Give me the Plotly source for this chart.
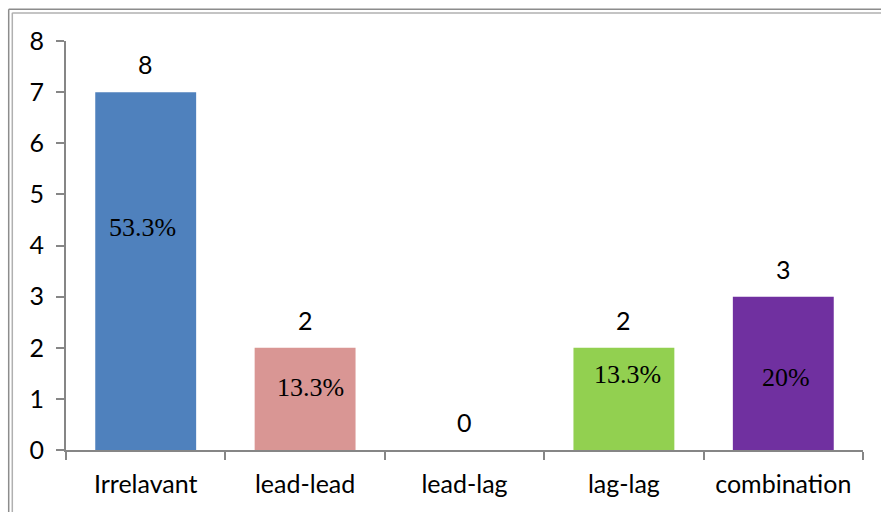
import plotly.graph_objects as go

categories = ["Irrelavant", "lead-lead", "lead-lag", "lag-lag", "combination"]
counts = [7, 2, 0, 2, 3]
count_labels = ["8", "2", "0", "2", "3"]
pct_labels = ["53.3%", "13.3%", "", "13.3%", "20%"]
pct_y = [4.35, 1.22, None, 1.47, 1.41]
pct_xshift = [-3, 5, 0, 4, 3]
bar_colors = ["#4F81BD", "#D99694", "#C0C0C0", "#92D050", "#7030A0"]

axis_grey = "#868686"
label_font = dict(family="Lato, Carlito, sans-serif", size=25, color="black")
pct_font = dict(family="Liberation Serif, Times New Roman, serif", size=26, color="black")

fig = go.Figure()
fig.add_trace(go.Bar(
    x=categories,
    y=counts,
    marker=dict(color=bar_colors, line=dict(width=0)),
    hoverinfo="skip",
))

# count labels above each bar
for cat, val, lab in zip(categories, counts, count_labels):
    fig.add_annotation(x=cat, y=val, text=lab, showarrow=False,
                       yshift=28, font=label_font)

# percentage labels inside bars
for cat, lab, py, xs in zip(categories, pct_labels, pct_y, pct_xshift):
    if not lab:
        continue
    fig.add_annotation(x=cat, y=py, text=lab, showarrow=False,
                       xshift=xs, font=pct_font)

# double frame round the chart (runs off right and bottom edge)
W, H = 797.0, 409.0
def px(x):
    return (x - 66) / W
def py_(y):
    return (450 - y) / H

for xx, col in [(8.7, "#8c8c8c"), (12.3, "#b0b0b0")]:
    fig.add_shape(type="line", xref="paper", yref="paper",
                  x0=px(xx), x1=px(xx), y0=py_(xx + 0.5), y1=py_(600),
                  line=dict(color=col, width=1.5))
for yy, col in [(9.3, "#8c8c8c"), (13.0, "#b0b0b0")]:
    fig.add_shape(type="line", xref="paper", yref="paper",
                  x0=px(yy - 0.6), x1=px(1000), y0=py_(yy), y1=py_(yy),
                  line=dict(color=col, width=1.5))

fig.update_layout(
    width=881, height=512,
    margin=dict(l=66, r=18, t=41, b=62),
    paper_bgcolor="white",
    plot_bgcolor="white",
    bargap=0.367,
    showlegend=False,
    font=label_font,
)
fig.update_xaxes(
    type="category",
    showline=True, linecolor=axis_grey, linewidth=2,
    ticks="outside", tickson="boundaries", ticklen=8,
    tickcolor=axis_grey, tickwidth=2,
    tickfont=label_font, ticklabelstandoff=11,
    showgrid=False,
)
fig.update_yaxes(
    range=[0, 8], dtick=1,
    showline=True, linecolor=axis_grey, linewidth=2,
    ticks="outside", ticklen=8, tickcolor=axis_grey, tickwidth=2,
    tickfont=label_font, ticklabelstandoff=7,
    showgrid=False, zeroline=False,
)

# the page body has a default 8px margin; drop it so the chart sits at 0,0
fig.write_html("out.html", config={"displayModeBar": False},
               post_script="document.body.style.margin='0';")
